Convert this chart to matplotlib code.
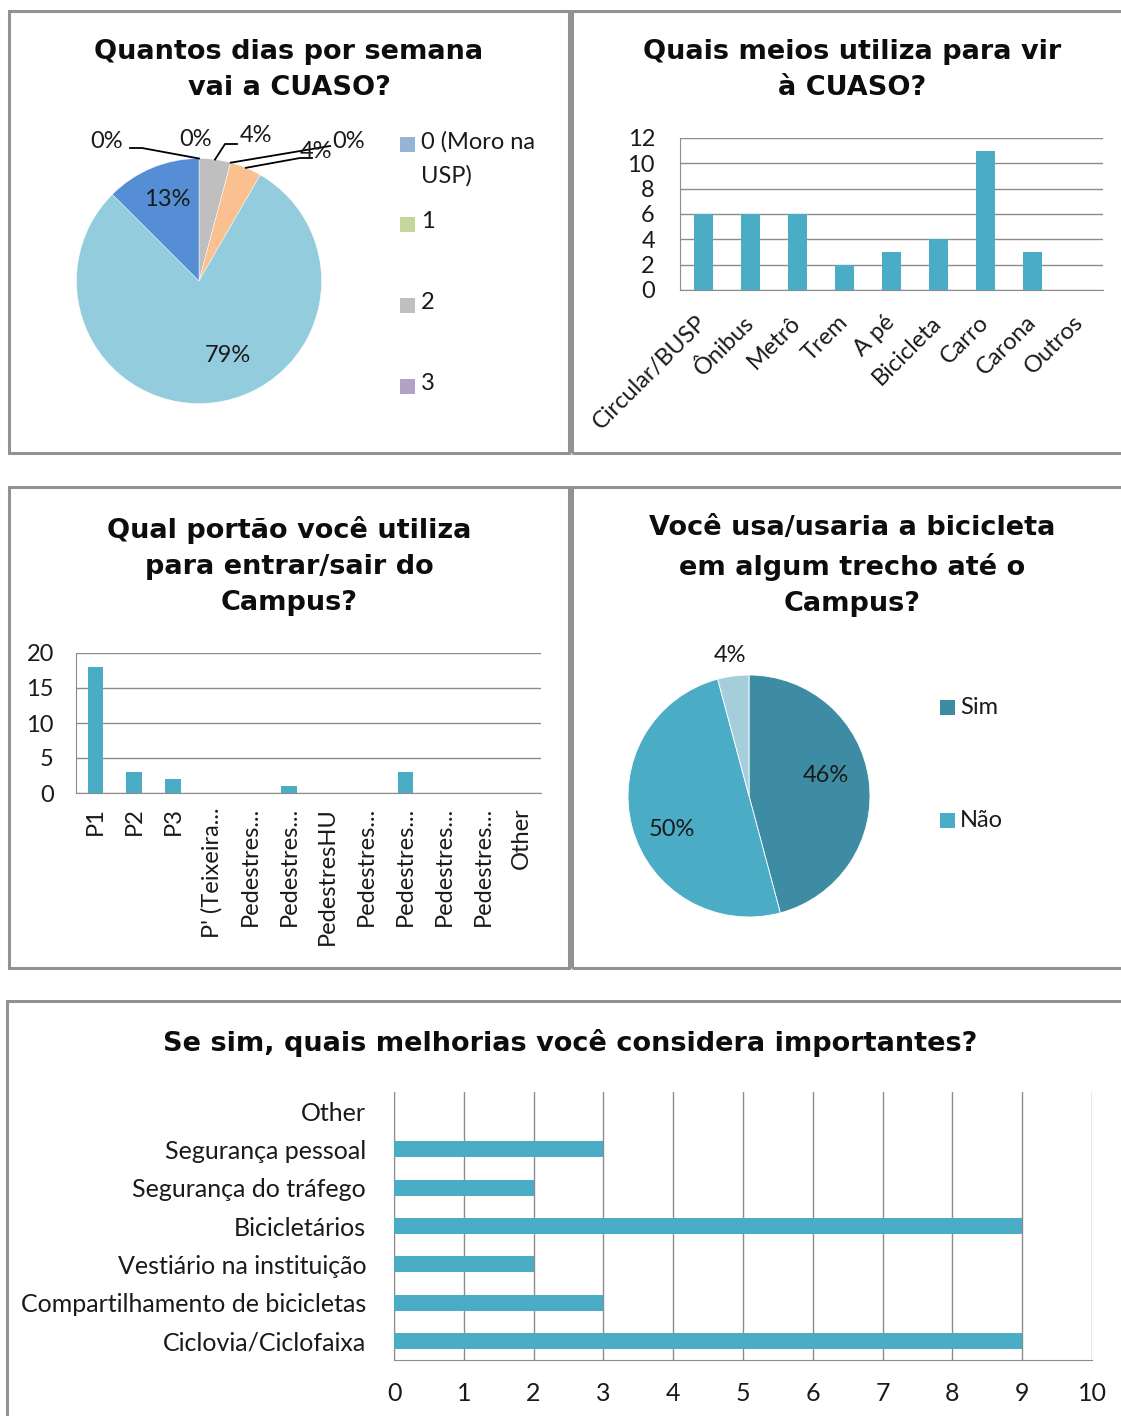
import matplotlib
matplotlib.use("Agg")
import matplotlib.pyplot as plt
from matplotlib.patches import Rectangle
import numpy as np

# ---------------- data ----------------
dias_labels = ["0 (Moro na\nUSP)", "1", "2", "3", "4", "5", "6"]
dias_counts = [0, 0, 1, 0, 1, 19, 3]
dias_colors = ["#95B3D7", "#C3D69B", "#BFBFBF", "#B3A2C7", "#FAC090", "#93CDDD", "#558ED5"]

meios_labels = ["Circular/BUSP", "Ônibus", "Metrô", "Trem", "A pé", "Bicicleta",
                "Carro", "Carona", "Outros"]
meios_counts = [6, 6, 6, 2, 3, 4, 11, 3, 0]

portao_labels = ["P1", "P2", "P3", "P' (Teixeira...", "Pedestres...", "Pedestres...",
                 "PedestresHU", "Pedestres...", "Pedestres...", "Pedestres...",
                 "Pedestres...", "Other"]
portao_counts = [18, 3, 2, 0, 0, 1, 0, 0, 3, 0, 0, 0]

bici_labels = ["Sim", "Não", "Outro"]
bici_counts = [11, 12, 1]
bici_colors = ["#3D8CA3", "#4BACC6", "#A5CEDC"]

melhorias_labels = ["Ciclovia/Ciclofaixa", "Compartilhamento de bicicletas",
                    "Vestiário na instituição", "Bicicletários",
                    "Segurança do tráfego", "Segurança pessoal", "Other"]
melhorias_counts = [9, 3, 2, 9, 2, 3, 0]

BAR = "#4BACC6"
GRID = "#8C8C8C"
FRAME = "#929292"
TXT = "#1A1A1A"
LABEL_FONT = ["Lato", "DejaVu Sans"]
TITLE_FONT = ["DejaVu Sans"]
LSIZE = 17

W, H = 1121, 1416
fig = plt.figure(figsize=(W / 100, H / 100), dpi=100)
fig.patch.set_facecolor("white")


def box(x0, y0, x1, y1):
    return [x0 / W, 1 - y1 / H, (x1 - x0) / W, (y1 - y0) / H]


def fx(x):
    return x / W


def fy(y):
    return 1 - y / H


def pct(v, tot):
    return "%d%%" % int(100 * v / tot + 0.5)


def frame(x0, y0, x1, y1):
    fig.patches.append(Rectangle((fx(x0), fy(y1)), (x1 - x0) / W, (y1 - y0) / H,
                                 transform=fig.transFigure, fill=False,
                                 ec=FRAME, lw=2.2, zorder=0))


def title(x, y, s):
    fig.text(fx(x), fy(y), s, ha="center", va="center", fontsize=19.5,
             fontweight="bold", family=TITLE_FONT, color="#0D0D0D", linespacing=1.52)


# panel frames
frame(9, 11, 569, 453)
frame(572, 11, 1130, 453)
frame(9, 487, 569, 968)
frame(572, 487, 1130, 968)
frame(7, 1001, 1130, 1430)

lab_kw = dict(fontsize=LSIZE, family=LABEL_FONT, color=TXT, clip_on=False)

# ---------------- pie: dias por semana ----------------
title(289, 70, "Quantos dias por semana\nvai a CUASO?")
R1 = 122.5
cx1, cy1 = 199, 281
ax1 = fig.add_axes(box(cx1 - R1, cy1 - R1, cx1 + R1, cy1 + R1))
ax1.pie(dias_counts, colors=dias_colors, startangle=90, counterclock=False,
        wedgeprops=dict(edgecolor="white", linewidth=0.3))
ax1.set_xlim(-1, 1)
ax1.set_ylim(-1, 1)
ax1.set_aspect("equal")
ax1.axis("off")

tot1 = sum(dias_counts)
cum = np.cumsum([0] + dias_counts)
mid_deg = [(cum[i] + dias_counts[i] / 2) / tot1 * 360 for i in range(len(dias_counts))]


def rel(px, py):
    return ((px - cx1) / R1, (cy1 - py) / R1)


def edge_point(deg, r=1.0):
    a = np.deg2rad(deg)
    return (r * np.sin(a), r * np.cos(a))


# label placement for each slice; leader paths for the thin ones
label_pos = {
    0: ((107, 142), [(130, 148), (142, 148)]),
    1: ((196, 140), None),
    2: ((256, 136), [(237, 144), (225, 144)]),
    3: ((349, 142), [(330, 146)]),
    4: ((316, 151), [(312, 158), (300, 158)]),
    5: ((228, 355), None),
    6: ((167, 200), None),
}
for i, (pos, path) in label_pos.items():
    tx, ty = rel(*pos)
    ax1.text(tx, ty, pct(dias_counts[i], tot1), ha="center", va="center", **lab_kw)
    if path:
        pts = [rel(*p) for p in path] + [edge_point(mid_deg[i])]
        xs, ys = zip(*pts)
        ax1.plot(xs, ys, color="black", lw=1.3, clip_on=False)

# legend (only the first four entries fit)
leg_y = [145, 225, 306, 387]
for lab, col, y in zip(dias_labels[:4], dias_colors[:4], leg_y):
    fig.patches.append(Rectangle((fx(400), fy(y + 7)), 15 / W, 15 / H,
                                 transform=fig.transFigure, fc=col, ec="none"))
    fig.text(fx(421), fy(y - 14), lab, ha="left", va="top", fontsize=LSIZE,
             family=LABEL_FONT, color=TXT, linespacing=1.72)


def style_axes(ax, xpad, ypad):
    for s in ("top", "right"):
        ax.spines[s].set_visible(False)
    for s in ("left", "bottom"):
        ax.spines[s].set_color(GRID)
    ax.set_axisbelow(True)
    ax.tick_params(axis="both", length=0, labelsize=LSIZE, colors=TXT)
    ax.tick_params(axis="x", pad=xpad)
    ax.tick_params(axis="y", pad=ypad)
    for t in ax.get_xticklabels() + ax.get_yticklabels():
        t.set_family(LABEL_FONT)


# ---------------- bars: meios ----------------
title(852, 70, "Quais meios utiliza para vir\nà CUASO?")
ax2 = fig.add_axes(box(680, 138, 1103, 290))
x2 = np.arange(len(meios_labels))
ax2.bar(x2, meios_counts, width=0.4, color=BAR, zorder=3)
ax2.set_xlim(-0.5, len(meios_labels) - 0.5)
ax2.set_ylim(0, 12)
ax2.set_yticks(range(0, 13, 2))
ax2.yaxis.grid(True, color=GRID, lw=1)
ax2.set_xticks(x2)
ax2.set_xticklabels(meios_labels, rotation=45, ha="right", va="center",
                    rotation_mode="anchor")
style_axes(ax2, 21, 18)

# ---------------- bars: portões ----------------
title(289, 566, "Qual portão você utiliza\npara entrar/sair do\nCampus?")
ax3 = fig.add_axes(box(76, 653, 541, 793))
x3 = np.arange(len(portao_labels))
ax3.bar(x3, portao_counts, width=0.4, color=BAR, zorder=3)
ax3.set_xlim(-0.5, len(portao_labels) - 0.5)
ax3.set_ylim(0, 20)
ax3.set_yticks(range(0, 21, 5))
ax3.yaxis.grid(True, color=GRID, lw=1)
ax3.set_xticks(x3)
ax3.set_xticklabels(portao_labels, rotation=90, ha="center", va="top")
style_axes(ax3, 10, 16)

# ---------------- pie: bicicleta ----------------
title(852, 566, "Você usa/usaria a bicicleta\nem algum trecho até o\nCampus?")
R4 = 121
cx4, cy4 = 749, 796
ax4 = fig.add_axes(box(cx4 - R4, cy4 - R4, cx4 + R4, cy4 + R4))
ax4.pie(bici_counts, colors=bici_colors, startangle=90, counterclock=False,
        wedgeprops=dict(edgecolor="white", linewidth=0.6))
ax4.set_xlim(-1, 1)
ax4.set_ylim(-1, 1)
ax4.set_aspect("equal")
ax4.axis("off")
tot4 = sum(bici_counts)
bici_label_px = [(826, 775), (672, 830), (730, 655)]
for v, (px, py) in zip(bici_counts, bici_label_px):
    ax4.text((px - cx4) / R4, (cy4 - py) / R4, pct(v, tot4), ha="center",
             va="center", **lab_kw)

for lab, col, y in zip(bici_labels[:2], bici_colors[:2], [707, 820]):
    fig.patches.append(Rectangle((fx(940), fy(y + 8)), 15 / W, 15 / H,
                                 transform=fig.transFigure, fc=col, ec="none"))
    fig.text(fx(960), fy(y), lab, ha="left", va="center", fontsize=LSIZE,
             family=LABEL_FONT, color=TXT)

# ---------------- horizontal bars: melhorias ----------------
title(570, 1043, "Se sim, quais melhorias você considera importantes?")
ax5 = fig.add_axes(box(394, 1092, 1092, 1360))
y5 = np.arange(len(melhorias_labels))
ax5.barh(y5, melhorias_counts, height=0.42, color=BAR, zorder=3)
ax5.set_ylim(-0.5, len(melhorias_labels) - 0.5)
ax5.set_xlim(0, 10)
ax5.set_xticks(range(0, 11))
ax5.xaxis.grid(True, color=GRID, lw=1)
ax5.set_yticks(y5)
ax5.set_yticklabels(melhorias_labels)
style_axes(ax5, 16, 20)
for t in ax5.get_xticklabels() + ax5.get_yticklabels():
    t.set_fontsize(18)

fig.savefig("out.png", dpi=100, facecolor="white")
